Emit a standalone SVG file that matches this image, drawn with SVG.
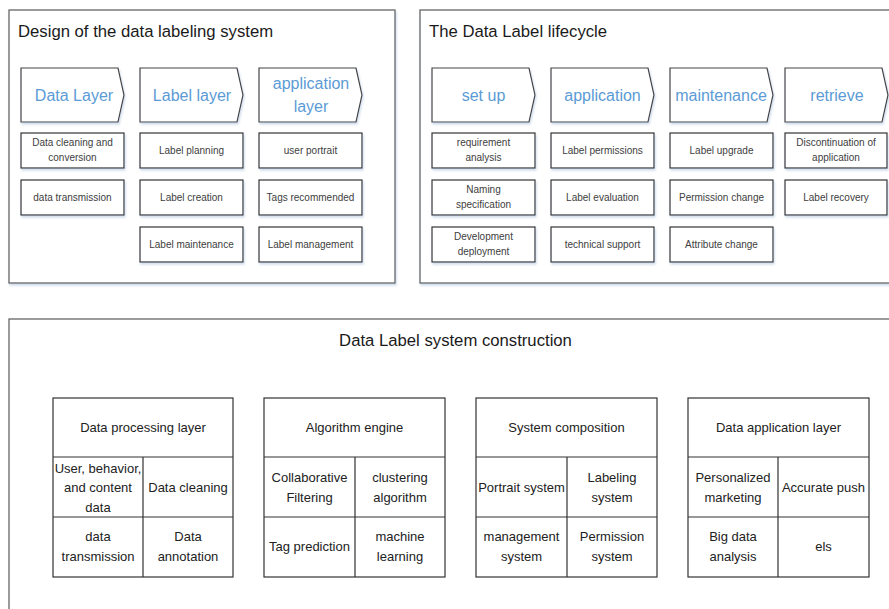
<svg xmlns="http://www.w3.org/2000/svg" width="889" height="609" viewBox="0 0 889 609">
<style>
text{font-family:"Liberation Sans",Arial,sans-serif;text-anchor:middle}
.t{font-size:16.7px;fill:#1a1a1a;text-anchor:start}
.tc{font-size:16.7px;fill:#1a1a1a}
.c{font-size:16px;fill:#5b9bd5}
.s{font-size:10px;fill:#404040}
.b{font-size:13px;fill:#222}
.panel{fill:#fff;stroke:#666;stroke-width:1.3}
.chev{fill:#fff;stroke:#444;stroke-width:1.2}
.box{fill:#fff;stroke:#333;stroke-width:1.2}
.tbl{fill:#fff;stroke:#333;stroke-width:1.2}
.ln{stroke:#333;stroke-width:1.2;fill:none}
</style>
<defs>
<filter id="sh" x="-10%" y="-10%" width="130%" height="140%">
<feDropShadow dx="1" dy="2" stdDeviation="1.3" flood-color="#9fb6d6" flood-opacity="0.5"/>
</filter>
</defs>
<rect width="889" height="609" fill="#fff"/>

<!-- Top-left panel -->
<g id="panel-design">
<rect class="panel" x="9" y="10" width="386" height="273" filter="url(#sh)"/>
<text class="t" x="18" y="37">Design of the data labeling system</text>
</g>
<g id="data-layer">
<path class="chev" d="M21 68 H118 L124 95 L118 122 H21 Z" filter="url(#sh)"/>
<text class="c" x="74" y="101">Data Layer</text>
</g>
<g id="label-layer">
<path class="chev" d="M140 68 H237 L243 95 L237 122 H140 Z" filter="url(#sh)"/>
<text class="c" x="192" y="101">Label layer</text>
</g>
<g id="application-layer">
<path class="chev" d="M259 68 H356 L362 95 L356 122 H259 Z" filter="url(#sh)"/>
<text class="c" x="311" y="89">application</text>
<text class="c" x="311" y="112">layer</text>
</g>
<g id="dl-1"><rect class="box" x="21" y="133" width="103" height="35" filter="url(#sh)"/><text class="s" x="72.5" y="146">Data cleaning and</text><text class="s" x="72.5" y="161">conversion</text></g>
<g id="dl-2"><rect class="box" x="21" y="180" width="103" height="35" filter="url(#sh)"/><text class="s" x="72.5" y="201">data transmission</text></g>
<g id="ll-1"><rect class="box" x="140" y="133" width="103" height="35" filter="url(#sh)"/><text class="s" x="191.5" y="154">Label planning</text></g>
<g id="ll-2"><rect class="box" x="140" y="180" width="103" height="35" filter="url(#sh)"/><text class="s" x="191.5" y="201">Label creation</text></g>
<g id="ll-3"><rect class="box" x="140" y="227" width="103" height="35" filter="url(#sh)"/><text class="s" x="191.5" y="248">Label maintenance</text></g>
<g id="al-1"><rect class="box" x="259" y="133" width="103" height="35" filter="url(#sh)"/><text class="s" x="310.5" y="154">user portrait</text></g>
<g id="al-2"><rect class="box" x="259" y="180" width="103" height="35" filter="url(#sh)"/><text class="s" x="310.5" y="201">Tags recommended</text></g>
<g id="al-3"><rect class="box" x="259" y="227" width="103" height="35" filter="url(#sh)"/><text class="s" x="310.5" y="248">Label management</text></g>

<!-- Top-right panel -->
<g id="panel-lifecycle">
<rect class="panel" x="420" y="10" width="480" height="273" filter="url(#sh)"/>
<text class="t" x="429" y="37">The Data Label lifecycle</text>
</g>
<g id="set-up">
<path class="chev" d="M432 68 H529 L535 95 L529 122 H432 Z" filter="url(#sh)"/>
<text class="c" x="483.5" y="101">set up</text>
</g>
<g id="application">
<path class="chev" d="M551 68 H648 L654 95 L648 122 H551 Z" filter="url(#sh)"/>
<text class="c" x="602.5" y="101">application</text>
</g>
<g id="maintenance">
<path class="chev" d="M670 68 H767 L773 95 L767 122 H670 Z" filter="url(#sh)"/>
<text class="c" x="721" y="101">maintenance</text>
</g>
<g id="retrieve">
<path class="chev" d="M785 68 H882 L888 95 L882 122 H785 Z" filter="url(#sh)"/>
<text class="c" x="837" y="101">retrieve</text>
</g>
<g id="su-1"><rect class="box" x="432" y="133" width="103" height="35" filter="url(#sh)"/><text class="s" x="483.5" y="146">requirement</text><text class="s" x="483.5" y="161">analysis</text></g>
<g id="su-2"><rect class="box" x="432" y="180" width="103" height="35" filter="url(#sh)"/><text class="s" x="483.5" y="193">Naming</text><text class="s" x="483.5" y="208">specification</text></g>
<g id="su-3"><rect class="box" x="432" y="227" width="103" height="35" filter="url(#sh)"/><text class="s" x="483.5" y="240">Development</text><text class="s" x="483.5" y="255">deployment</text></g>
<g id="ap-1"><rect class="box" x="551" y="133" width="103" height="35" filter="url(#sh)"/><text class="s" x="602.5" y="154">Label permissions</text></g>
<g id="ap-2"><rect class="box" x="551" y="180" width="103" height="35" filter="url(#sh)"/><text class="s" x="602.5" y="201">Label evaluation</text></g>
<g id="ap-3"><rect class="box" x="551" y="227" width="103" height="35" filter="url(#sh)"/><text class="s" x="602.5" y="248">technical support</text></g>
<g id="mt-1"><rect class="box" x="670" y="133" width="103" height="35" filter="url(#sh)"/><text class="s" x="721.5" y="154">Label upgrade</text></g>
<g id="mt-2"><rect class="box" x="670" y="180" width="103" height="35" filter="url(#sh)"/><text class="s" x="721.5" y="201">Permission change</text></g>
<g id="mt-3"><rect class="box" x="670" y="227" width="103" height="35" filter="url(#sh)"/><text class="s" x="721.5" y="248">Attribute change</text></g>
<g id="rt-1"><rect class="box" x="785" y="133" width="102" height="35" filter="url(#sh)"/><text class="s" x="836" y="146">Discontinuation of</text><text class="s" x="836" y="161">application</text></g>
<g id="rt-2"><rect class="box" x="785" y="180" width="102" height="35" filter="url(#sh)"/><text class="s" x="836" y="201">Label recovery</text></g>

<!-- Bottom panel -->
<g id="panel-construction">
<rect class="panel" x="9" y="319" width="900" height="310"/>
<text class="tc" x="455.5" y="346">Data Label system construction</text>
</g>

<g id="data-processing-layer">
<rect class="tbl" x="53" y="398" width="180" height="179"/>
<path class="ln" d="M53 457 H233 M53 517 H233 M143 457 V577"/>
<text class="b" x="143" y="432">Data processing layer</text>
<text class="b" x="98" y="473">User, behavior,</text>
<text class="b" x="98" y="492">and content</text>
<text class="b" x="98" y="512">data</text>
<text class="b" x="188" y="492">Data cleaning</text>
<text class="b" x="98" y="541">data</text>
<text class="b" x="98" y="561">transmission</text>
<text class="b" x="188" y="541">Data</text>
<text class="b" x="188" y="561">annotation</text>
</g>

<g id="algorithm-engine">
<rect class="tbl" x="264" y="398" width="181" height="179"/>
<path class="ln" d="M264 457 H445 M264 517 H445 M355 457 V577"/>
<text class="b" x="354.5" y="432">Algorithm engine</text>
<text class="b" x="309.5" y="482">Collaborative</text>
<text class="b" x="309.5" y="502">Filtering</text>
<text class="b" x="400" y="482">clustering</text>
<text class="b" x="400" y="502">algorithm</text>
<text class="b" x="309.5" y="551">Tag prediction</text>
<text class="b" x="400" y="541">machine</text>
<text class="b" x="400" y="561">learning</text>
</g>

<g id="system-composition">
<rect class="tbl" x="476" y="398" width="181" height="179"/>
<path class="ln" d="M476 457 H657 M476 517 H657 M567 457 V577"/>
<text class="b" x="566.5" y="432">System composition</text>
<text class="b" x="521.5" y="492">Portrait system</text>
<text class="b" x="612" y="482">Labeling</text>
<text class="b" x="612" y="502">system</text>
<text class="b" x="521.5" y="541">management</text>
<text class="b" x="521.5" y="561">system</text>
<text class="b" x="612" y="541">Permission</text>
<text class="b" x="612" y="561">system</text>
</g>

<g id="data-application-layer">
<rect class="tbl" x="688" y="398" width="181" height="179"/>
<path class="ln" d="M688 457 H869 M688 517 H869 M778 457 V577"/>
<text class="b" x="778.5" y="432">Data application layer</text>
<text class="b" x="733" y="482">Personalized</text>
<text class="b" x="733" y="502">marketing</text>
<text class="b" x="823.5" y="492">Accurate push</text>
<text class="b" x="733" y="541">Big data</text>
<text class="b" x="733" y="561">analysis</text>
<text class="b" x="823.5" y="551">els</text>
</g>

<g id="connectors"></g>
</svg>
